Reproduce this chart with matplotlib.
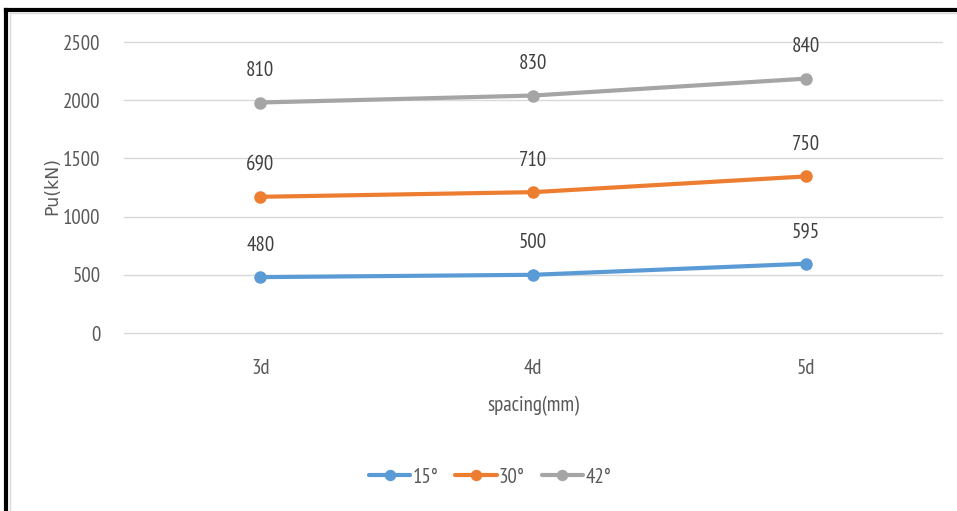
import matplotlib
matplotlib.use("Agg")
import matplotlib.pyplot as plt
from matplotlib.lines import Line2D
import numpy as np

categories = ["3d", "4d", "5d"]
series_names = ["15°", "30°", "42°"]
s15 = [480, 500, 595]
s30 = [690, 710, 750]
s42 = [810, 830, 840]
colors = ["#5B9BD5", "#ED7D31", "#A5A5A5"]
yticks = [0, 500, 1000, 1500, 2000, 2500]

main_font = "PT Sans Narrow"
fs = 15

fig = plt.figure(figsize=(9.57, 5.11), dpi=100)
ax = fig.add_axes([124/957, 1-333/511, (942-124)/957, (333-42)/511])

x = np.arange(len(categories))
cum = np.zeros(len(categories))
for name, vals, c in zip(series_names, [s15, s30, s42], colors):
    cum = cum + np.array(vals)
    ax.plot(x, cum, color=c, lw=3, marker="o", ms=8, label=name, solid_capstyle="round")
    for xi, yi, v in zip(x, cum, vals):
        ax.annotate(str(v), (xi, yi), xytext=(0, 23), textcoords="offset points",
                    ha="center", va="center", fontsize=fs, color="#404040", family=main_font)

ax.set_xlim(-0.5, len(categories) - 0.5)
ax.set_ylim(0, 2500)
ax.set_yticks(yticks)
ax.set_xticks(x)
ax.set_xticklabels(categories)
ax.grid(axis="y", color="#D9D9D9", lw=1)
for gl in ax.get_ygridlines():
    gl.set_clip_on(False)
ax.set_axisbelow(True)
for s in ax.spines.values():
    s.set_visible(False)
ax.tick_params(length=0, labelsize=fs, labelcolor="#595959")
ax.tick_params(axis="y", pad=17)
ax.tick_params(axis="x", pad=19)
for lab in ax.get_xticklabels() + ax.get_yticklabels():
    lab.set_family(main_font)

ax.set_xlabel("spacing(mm)", fontsize=fs, color="#595959", family=main_font, labelpad=13)
fig.text(52/957, 1-186/511, "Pu(kN)", rotation=90, ha="center", va="center",
         fontsize=12.5, color="#595959", family="DejaVu Sans")

leg = fig.legend(loc="center", bbox_to_anchor=(490/957, 1-477/511), ncol=3, frameon=False,
                 handlelength=2.0, columnspacing=0.8, handletextpad=0.1, markerscale=0.9,
                 prop={"family": main_font, "size": fs})
for t in leg.get_texts():
    t.set_color("#595959")

# frame decorations
fig.add_artist(Line2D([6/957, 1], [1-10/511, 1-10/511], transform=fig.transFigure, color="black", lw=3))
fig.add_artist(Line2D([6/957, 6/957], [0, 1-10/511], transform=fig.transFigure, color="black", lw=3))
fig.add_artist(Line2D([10/957, 10/957], [0, 1-13/511], transform=fig.transFigure, color="#D9D9D9", lw=1))
fig.add_artist(Line2D([10/957, 1], [1-13/511, 1-13/511], transform=fig.transFigure, color="#D9D9D9", lw=1))

fig.savefig("out.png", dpi=100)
